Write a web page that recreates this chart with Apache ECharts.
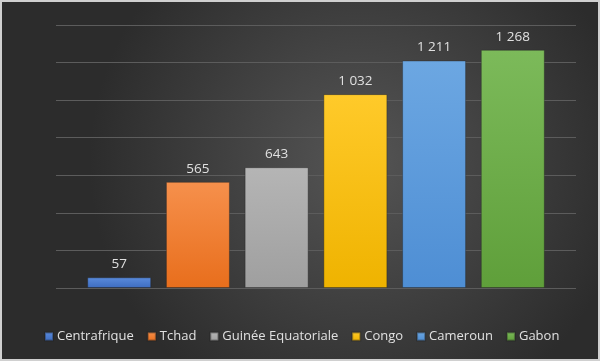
<!DOCTYPE html>
<html>
<head>
<meta charset="utf-8">
<script src="https://cdn.jsdelivr.net/npm/echarts@6/dist/echarts.min.js"></script>
<style>
html,body{margin:0;padding:0;background:#ffffff;}
#c{width:600px;height:361px;}
</style>
</head>
<body>
<div id="c"></div>
<script>
const countries = ['Centrafrique','Tchad','Guinée Equatoriale','Congo','Cameroun','Gabon'];
const values = [57, 565, 643, 1032, 1211, 1268];
const topColors = ['#5a8bdc','#f6904c','#b5b5b5','#ffca2a','#6ca7e2','#7cba5a'];
const bottomColors = ['#3d6cc0','#e86e1c','#9f9f9f','#efb300','#4e8ed4','#5f9f3a'];

const chart = echarts.init(document.getElementById('c'), null, {renderer:'canvas'});
const fmt = v => String(v).replace(/\B(?=(\d{3})+(?!\d))/g, ' ');
const series = countries.map((name, i) => ({
  name: name,
  type: 'bar',
  data: [values[i]],
  barWidth: 64,
  barGap: '23%',
  itemStyle: {
    color: new echarts.graphic.LinearGradient(0,0,0,1,[{offset:0,color:topColors[i]},{offset:1,color:bottomColors[i]}]),
    borderColor: 'rgba(30,30,30,0.35)',
    borderWidth: 1
  },
  label: {
    show: true, position: 'top', distance: 6,
    color: '#e0e0e0', fontSize: 13.5, fontFamily: 'Open Sans',
    formatter: p => fmt(p.value)
  }
}));

chart.setOption({
  backgroundColor: new echarts.graphic.RadialGradient(0.6, 0.45, 0.75, [
    {offset:0, color:'#555555'},
    {offset:1, color:'#2c2c2c'}
  ]),
  animation: false,
  grid: {left: 56, right: 24, top: 25, bottom: 73},
  legend: {
    bottom: 18, left: 44, padding: 0,
    itemWidth: 8, itemHeight: 8, itemGap: 13,
    icon: 'rect',
    textStyle: {color:'#e0e0e0', fontSize: 13, fontFamily: 'Open Sans', padding:[0,0,0,-1]},
    data: countries
  },
  xAxis: {
    type: 'category', data: [''],
    axisLine: {show:false}, axisTick:{show:false}, axisLabel:{show:false}
  },
  yAxis: {
    type: 'value', min: 0, max: 1400, interval: 200,
    axisLabel: {show:false}, axisLine:{show:false}, axisTick:{show:false},
    splitLine: {lineStyle:{color:'#5c5c5c', width:1}}
  },
  graphic: [{
    type:'rect', silent:true, z:100,
    shape:{x:0,y:0,width:600,height:361},
    style:{fill:'none', stroke:'#d0d0d0', lineWidth:4}
  }],
  series: series
});
</script>
</body>
</html>
